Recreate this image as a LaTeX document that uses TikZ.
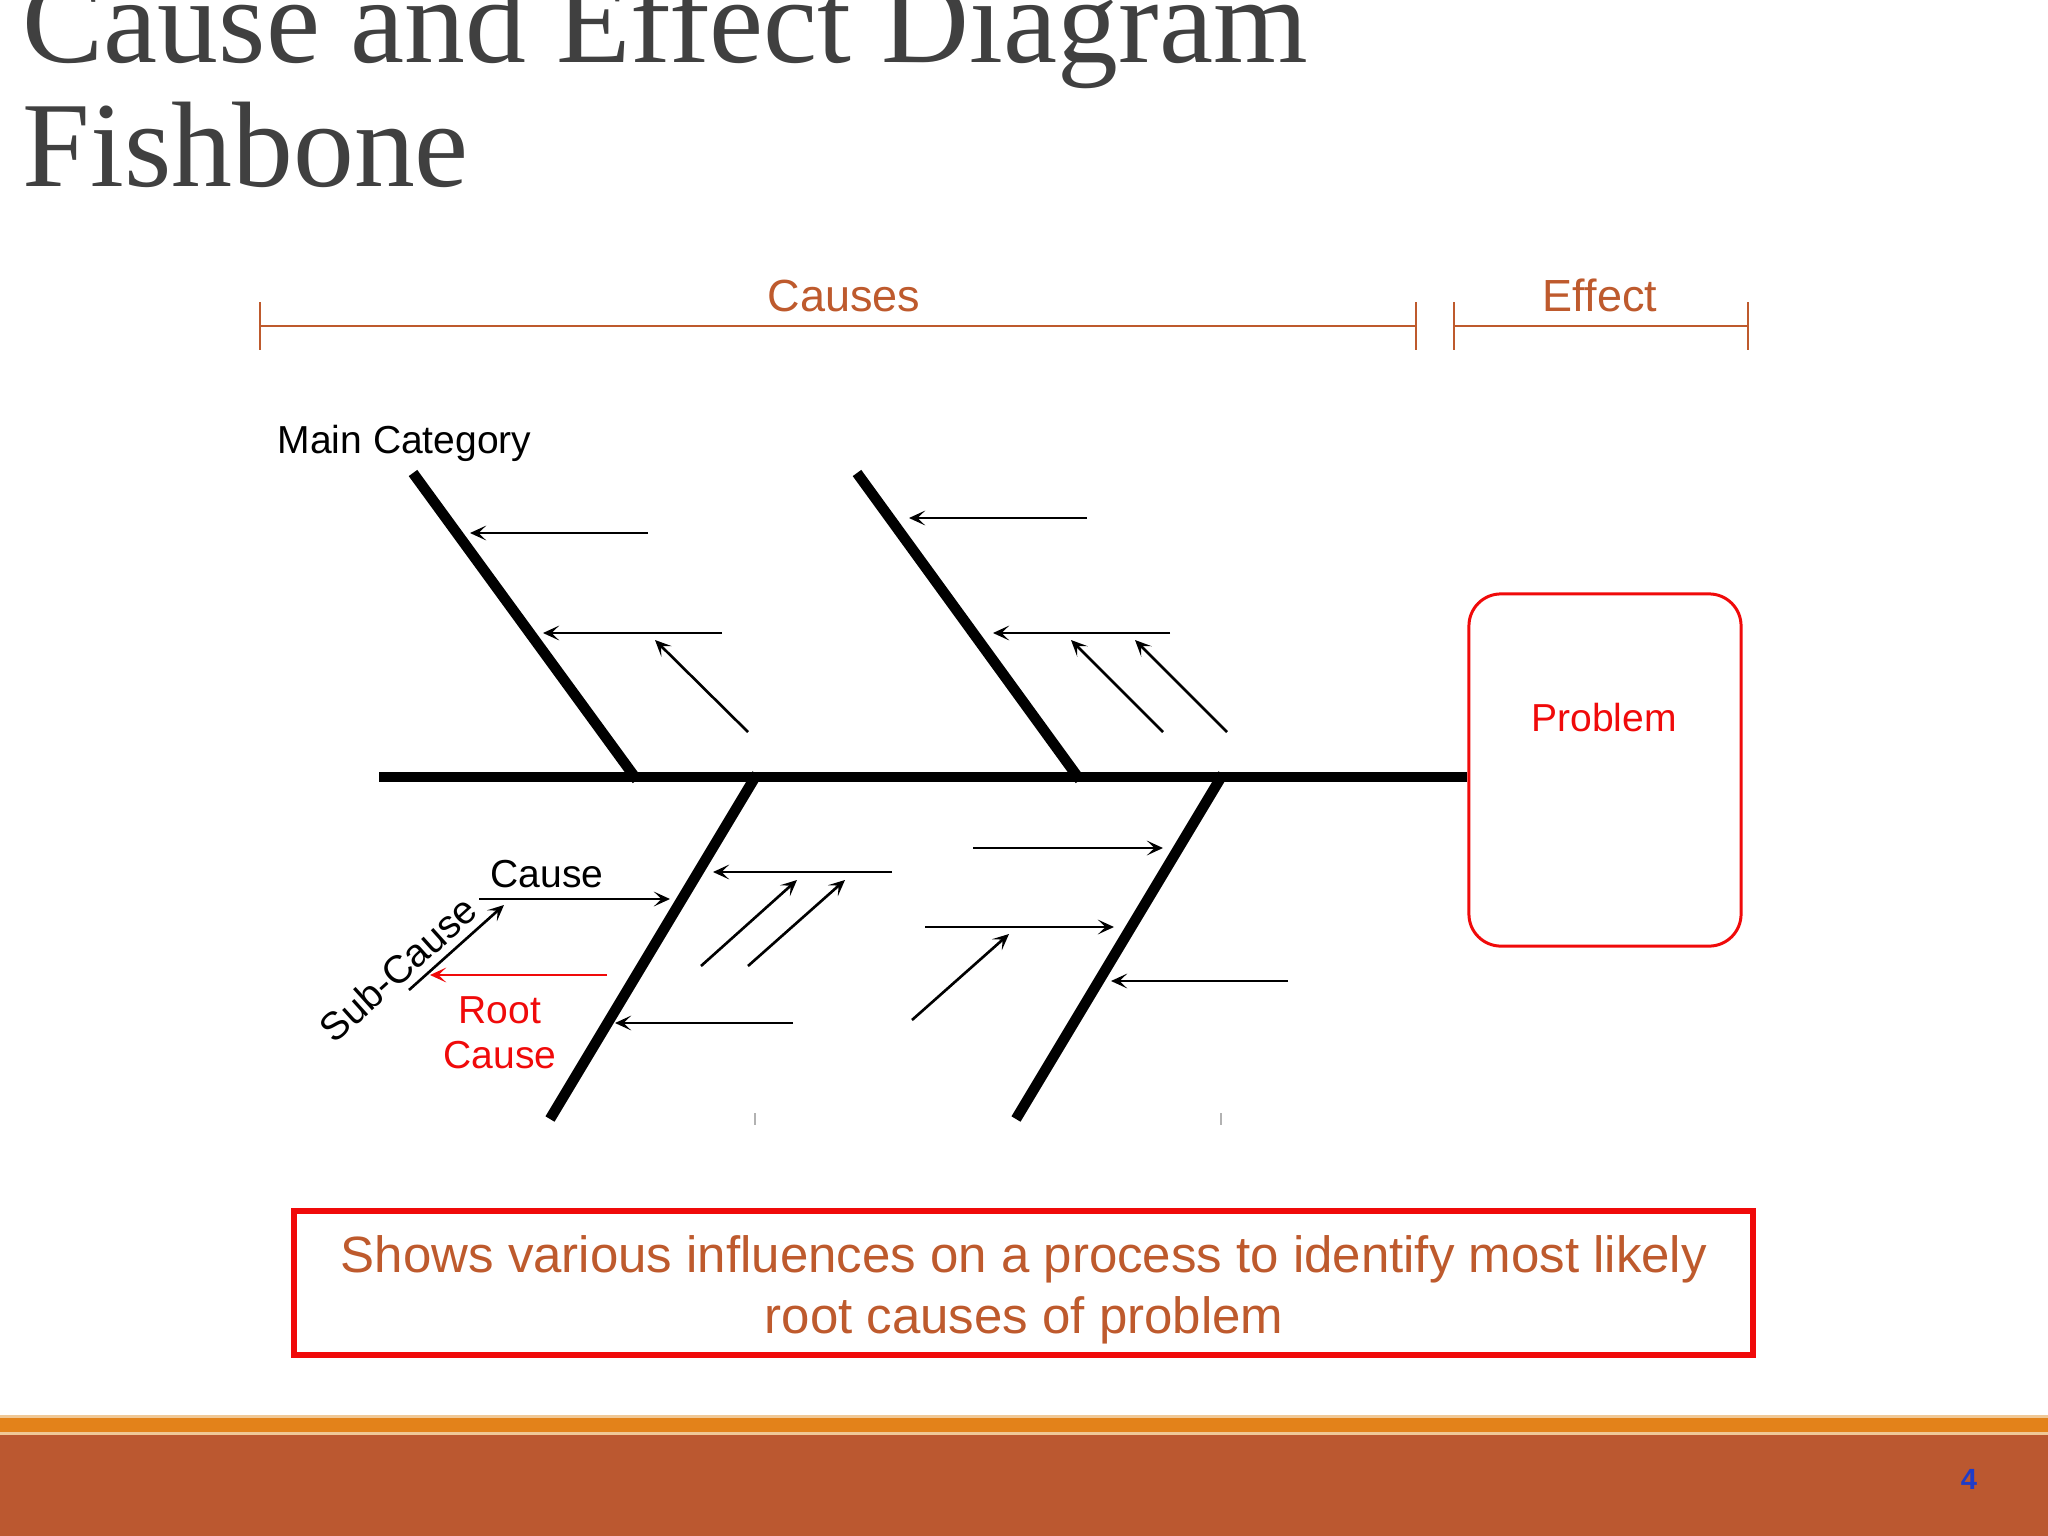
\documentclass[tikz,border=0pt]{standalone}
\usepackage{fontspec}
\setmainfont{Liberation Sans}
\newfontfamily\titlefont{Liberation Serif}
\usetikzlibrary{arrows.meta}
\definecolor{cbrown}{RGB}{190,90,45}
\definecolor{ctitle}{RGB}{64,64,64}
\definecolor{cband}{RGB}{227,130,26}
\definecolor{cfoot}{RGB}{187,88,48}
\definecolor{cpale}{RGB}{240,200,150}
\definecolor{cred}{RGB}{240,10,10}
\definecolor{cblue}{RGB}{30,60,200}
\tikzset{
  bone/.style={line width=3pt, black},
  cause/.style={line width=0.75pt, black, -{Stealth[length=4.6pt,width=4.2pt,inset=2.2pt]}},
  rootarrow/.style={cause, cred},
  bracket/.style={line width=0.75pt, cbrown},
  lbl/.style={font=\fontsize{11.1}{13}\selectfont, anchor=base, inner sep=0pt},
  headlbl/.style={font=\fontsize{12.8}{15}\selectfont, text=cbrown, anchor=base, inner sep=0pt},
  desc/.style={font=\fontsize{14.5}{17}\selectfont, text=cbrown, anchor=base, inner sep=0pt},
  titletext/.style={font=\titlefont\fontsize{34.6}{40}\selectfont, text=ctitle, anchor=base west, inner sep=0pt},
}
\begin{document}
\begin{tikzpicture}[x=0.01cm, y=-0.01cm]
\clip (0,0) rectangle (2048,1536);
\fill[white] (0,0) rectangle (2048,1536);

% title
\node[titletext] (t1) at (22,62) {Cause and Effect Diagram};
\node[titletext] (t2) at (22,186) {Fishbone};

% causes / effect brackets
\coordinate (cl) at (260,326); \coordinate (cr) at (1416,326);
\coordinate (el) at (1454,326); \coordinate (er) at (1748,326);
\draw[bracket] (cl) -- (cr);
\draw[bracket] (el) -- (er);
\foreach \p in {cl,cr,el,er} \draw[bracket] ([yshift=-0.235cm]\p) -- ([yshift=0.235cm]\p);
\node[headlbl] (causes) at (844,311) {Causes};
\node[headlbl] (effect) at (1600,311) {Effect};

% problem box
\node[draw=cred, line width=0.85pt, rounded corners=0.32cm, minimum width=2.72cm, minimum height=3.52cm, inner sep=0pt] (prob) at (1605,770) {};
\node[lbl, text=cred] (probtext) at (1604,731) {Problem};

% spine
\coordinate (sp0) at (379,777);
\draw[bone] (sp0) -- (prob.west |- sp0);

% bones
\coordinate (u1t) at (413,473); \coordinate (u1b) at (637,780);
\coordinate (u2t) at (857,473); \coordinate (u2b) at (1080,780);
\coordinate (l1t) at (757,774); \coordinate (l1b) at (550,1119);
\coordinate (l2t) at (1223,774); \coordinate (l2b) at (1016,1119);
\draw[bone] (u1t) -- (u1b);
\draw[bone] (u2t) -- (u2b);
\draw[bone] (l1t) -- (l1b);
\draw[bone] (l2t) -- (l2b);

% faint ticks
\draw[gray!60, line width=0.4pt] (755,1113) -- (755,1125);
\draw[gray!60, line width=0.4pt] (1221,1113) -- (1221,1125);

\node[lbl, anchor=base west] (maincat) at (277,453) {Main Category};

% upper bone 1 arrows
\coordinate (a1s) at (648,533); \coordinate (a1e) at (470,533);
\coordinate (a2s) at (722,633); \coordinate (a2e) at (543,633);
\coordinate (a3s) at (748,732); \coordinate (a3e) at (655,640);
\draw[cause] (a1s) -- (a1e);
\draw[cause] (a2s) -- (a2e);
\draw[cause] (a3s) -- (a3e);

% upper bone 2 arrows
\coordinate (b1s) at (1087,518); \coordinate (b1e) at (909,518);
\coordinate (b2s) at (1170,633); \coordinate (b2e) at (993,633);
\coordinate (b3s) at (1163,732); \coordinate (b3e) at (1071,640);
\coordinate (b4s) at (1227,732); \coordinate (b4e) at (1135,640);
\draw[cause] (b1s) -- (b1e);
\draw[cause] (b2s) -- (b2e);
\draw[cause] (b3s) -- (b3e);
\draw[cause] (b4s) -- (b4e);

% lower bone 1 arrows
\coordinate (cs) at (479,899); \coordinate (ce) at (670,899);
\coordinate (ss) at (409,990); \coordinate (se) at (504,905);
\coordinate (rs) at (607,975); \coordinate (re) at (430,975);
\coordinate (c1s) at (892,872); \coordinate (c1e) at (713,872);
\coordinate (c2s) at (701,966); \coordinate (c2e) at (797,880);
\coordinate (c3s) at (748,966); \coordinate (c3e) at (845,880);
\coordinate (c4s) at (793,1023); \coordinate (c4e) at (615,1023);
\draw[cause] (cs) -- (ce);
\draw[cause] (ss) -- (se);
\draw[rootarrow] (rs) -- (re);
\draw[cause] (c1s) -- (c1e);
\draw[cause] (c2s) -- (c2e);
\draw[cause] (c3s) -- (c3e);
\draw[cause] (c4s) -- (c4e);

\node[lbl] (causelbl) at (547,887) {Cause};
\node[lbl, anchor=center, rotate=42] (sublbl) at (398,969) {Sub-Cause};
\node[lbl, text=cred] (root1) at (500,1023) {Root};
\node[lbl, text=cred] (root2) at (500,1068) {Cause};

% lower bone 2 arrows
\coordinate (d1s) at (973,848); \coordinate (d1e) at (1163,848);
\coordinate (d2s) at (925,927); \coordinate (d2e) at (1114,927);
\coordinate (d3s) at (912,1020); \coordinate (d3e) at (1009,934);
\coordinate (d4s) at (1288,981); \coordinate (d4e) at (1111,981);
\draw[cause] (d1s) -- (d1e);
\draw[cause] (d2s) -- (d2e);
\draw[cause] (d3s) -- (d3e);
\draw[cause] (d4s) -- (d4e);

% description box
\draw[cred, line width=1.7pt] (294,1211) rectangle (1753,1355);
\node[desc] (desc1) at (1024,1272) {Shows various influences on a process to identify most likely};
\node[desc] (desc2) at (1024,1333) {root causes of problem};

% footer
\fill[cpale] (0,1415) rectangle (2048,1436);
\fill[cband] (0,1418) rectangle (2048,1432);
\fill[cfoot] (0,1435) rectangle (2048,1536);
\node[font=\fontsize{8.3}{10}\selectfont\bfseries, text=cblue, anchor=base, inner sep=0pt] (pgnum) at (1969,1489) {4};
\end{tikzpicture}
\end{document}
